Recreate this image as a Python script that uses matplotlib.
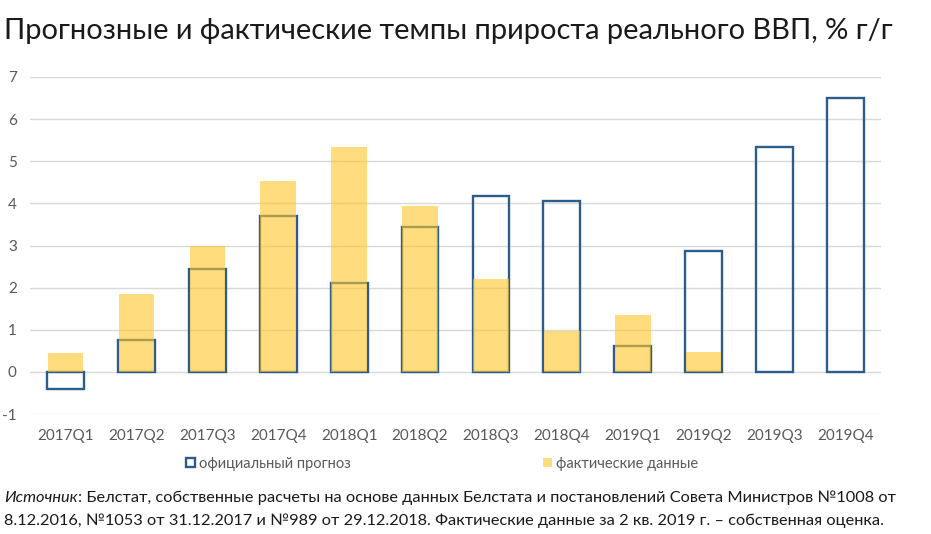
import matplotlib
matplotlib.use("Agg")
import matplotlib.pyplot as plt
from matplotlib.patches import Patch

categories = ["2017Q1", "2017Q2", "2017Q3", "2017Q4", "2018Q1", "2018Q2",
              "2018Q3", "2018Q4", "2019Q1", "2019Q2", "2019Q3", "2019Q4"]
forecast = [-0.4, 0.76, 2.44, 3.71, 2.11, 3.44, 4.17, 4.05, 0.62, 2.88, 5.35, 6.5]
actual = [0.44, 1.85, 3.0, 4.54, 5.33, 3.93, 2.2, 0.97, 1.34, 0.48, None, None]
yticks = [-1, 0, 1, 2, 3, 4, 5, 6, 7]

FONT = "Lato"
BLUE = "#2E5C8A"
YELLOW = "#FFC628"
GRAY = "#595959"
TXT = "#1a1a1a"

fig = plt.figure(figsize=(9.31, 5.34), dpi=100)
ax = fig.add_axes([30/931, 1-414/534, (881-30)/931, (414-77)/534])

x = list(range(len(categories)))
ax.bar(x, forecast, width=0.52, facecolor="none", edgecolor=BLUE, linewidth=1.7, zorder=2)
ax_x = [i for i, v in zip(x, actual) if v is not None]
ax_v = [v for v in actual if v is not None]
ax.bar(ax_x, ax_v, width=0.5, color=YELLOW, alpha=0.6, linewidth=0, zorder=3)

ax.set_ylim(-1, 7)
ax.set_xlim(-0.5, len(categories) - 0.5)
ax.set_yticks(yticks)
ax.set_yticklabels([str(t) for t in yticks], fontsize=11, color=GRAY, family=FONT)
ax.set_xticks(x)
ax.set_xticklabels(categories, fontsize=11, color=GRAY, family=FONT)
ax.tick_params(axis="both", length=0)
ax.tick_params(axis="y", pad=9.5)
ax.tick_params(axis="x", pad=10.5)
ax.grid(axis="y", color="#D9D9D9", linewidth=1.0, zorder=0)
ax.set_axisbelow(True)
for s in ax.spines.values():
    s.set_visible(False)

handles = [Patch(facecolor="white", edgecolor=BLUE, linewidth=1.7, label="официальный прогноз"),
           Patch(facecolor=YELLOW, alpha=0.6, linewidth=0, label="фактические данные")]
fig.legend(handles=handles, loc="center left", bbox_to_anchor=(186/931, 1-464/534), ncol=2,
           frameon=False, handlelength=0.6, handleheight=0.6, handletextpad=0.3,
           columnspacing=13.2, prop={"family": FONT, "size": 10.5}, labelcolor=GRAY,
           borderaxespad=0, borderpad=0)

renderer = fig.canvas.get_renderer()

def fit(t, target_px):
    w = t.get_window_extent(renderer).width
    t.set_fontsize(t.get_fontsize() * target_px / w)

title = fig.text(4/931, 1-31/534, "Прогнозные и фактические темпы прироста реального ВВП, % г/г",
                 fontsize=20, family=FONT, color=TXT, va="center", ha="left")
fit(title, 890)

t1 = fig.text(4/931, 1-498/534, "Источник", fontsize=12, family=FONT, style="italic",
              color=TXT, va="center", ha="left")
t2 = ax.annotate(": Белстат, собственные расчеты на основе данных Белстата и постановлений Совета Министров №1008 от",
                 xy=(1, 0.5), xycoords=t1, va="center", ha="left", fontsize=12, family=FONT, color=TXT,
                 annotation_clip=False)
t3 = fig.text(4/931,1-521/534,
              "8.12.2016, №1053 от 31.12.2017 и №989 от 29.12.2018. Фактические данные за 2 кв. 2019 г. – собственная оценка.",
              fontsize=12, family=FONT, color=TXT, va="center", ha="left")
fit(t3, 879)
t1.set_fontsize(t3.get_fontsize())
t2.set_fontsize(t3.get_fontsize())

fig.savefig("out.png", dpi=100)
